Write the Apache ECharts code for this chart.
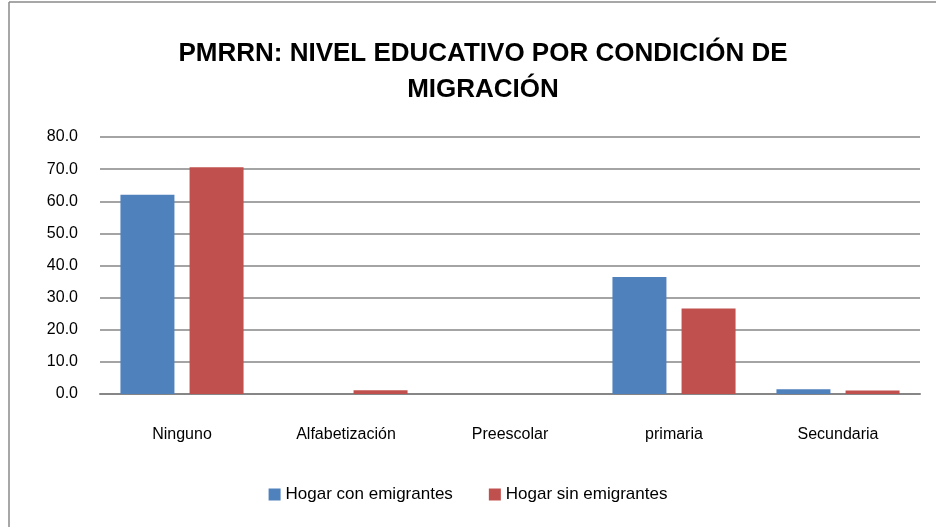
<!DOCTYPE html>
<html>
<head>
<meta charset="utf-8">
<script src="https://cdn.jsdelivr.net/npm/echarts@6/dist/echarts.min.js"></script>
<style>
  html, body { margin: 0; padding: 0; background: #fff; }
  #chart { width: 936px; height: 527px; }
</style>
</head>
<body>
<div id="chart"></div>
<script>
// datos
const categorias = ['Ninguno', 'Alfabetización', 'Preescolar', 'primaria', 'Secundaria']
const conEmigrantes = [62.0, 0, 0, 36.4, 1.5]
const sinEmigrantes = [70.6, 1.2, 0, 26.6, 1.1]
const ticksY = [0, 10, 20, 30, 40, 50, 60, 70, 80]

const mycharts = echarts.init(document.querySelector('#chart'))
const option = {
  animation: false,
  textStyle: { fontFamily: 'Liberation Sans' },
  title: {
    text: 'PMRRN: NIVEL EDUCATIVO POR CONDICIÓN DE\nMIGRACIÓN',
    left: 478,
    top: 31,
    textAlign: 'center',
    textStyle: {
      fontSize: 26,
      fontWeight: 'bold',
      color: '#000',
      lineHeight: 36
    }
  },
  graphic: [
    { type: 'line', shape: { x1: 9, y1: 2, x2: 936, y2: 2 }, style: { stroke: '#8a8a8a', lineWidth: 1.5 } },
    { type: 'line', shape: { x1: 9, y1: 2, x2: 9, y2: 527 }, style: { stroke: '#8a8a8a', lineWidth: 1.5 } }
  ],
  legend: {
    bottom: 19,
    left: 'center',
    itemWidth: 12,
    itemHeight: 12,
    itemGap: 36,
    icon: 'rect',
    textStyle: { fontSize: 17, color: '#000' },
    data: ['Hogar con emigrantes', 'Hogar sin emigrantes']
  },
  grid: { left: 100, right: 16, top: 137, bottom: 133 },
  xAxis: {
    type: 'category',
    data: categorias,
    axisTick: { show: false },
    axisLine: { lineStyle: { color: '#868686', width: 2 } },
    axisLabel: { fontSize: 16, color: '#000', margin: 33 }
  },
  yAxis: {
    type: 'value',
    min: ticksY[0],
    max: ticksY[ticksY.length - 1],
    interval: 10,
    axisLine: { show: false },
    axisTick: { show: false },
    splitLine: { lineStyle: { color: '#868686', width: 1.5 } },
    axisLabel: {
      fontSize: 16,
      color: '#000',
      margin: 22,
      formatter: v => v.toFixed(1)
    }
  },
  series: [
    {
      name: 'Hogar con emigrantes',
      type: 'bar',
      barWidth: 54,
      barGap: '28%',
      itemStyle: { color: '#4F81BD' },
      data: conEmigrantes
    },
    {
      name: 'Hogar sin emigrantes',
      type: 'bar',
      barWidth: 54,
      itemStyle: { color: '#C0504D' },
      data: sinEmigrantes
    }
  ]
}
mycharts.setOption(option)
</script>
</body>
</html>
